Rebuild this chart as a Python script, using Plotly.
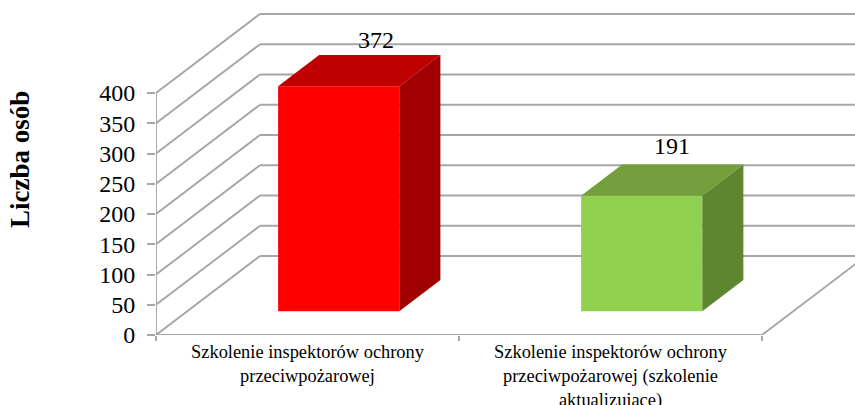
import plotly.graph_objects as go

categories = ["Szkolenie inspektorów ochrony<br>przeciwpożarowej",
              "Szkolenie inspektorów ochrony<br>przeciwpożarowej (szkolenie<br>aktualizujące)"]
values = [372, 191]
front_colors = ["#FF0000", "#92D050"]
top_colors = ["#C00000", "#739F3D"]
side_colors = ["#A00000", "#5E8630"]
y_ticks = [0, 50, 100, 150, 200, 250, 300, 350, 400]
y_title = "Liczba osób"

FONT = "Liberation Serif"
GRID = "#A6A6A6"
DX, DY = 104 / 303, 79 / 0.605      # full depth vector in axis units
BAR_W, D0, D1 = 0.4, 0.30, 0.695    # bar width and depth span


def proj(x, v, d):
    return x + d * DX, v + d * DY


fig = go.Figure()
shapes = []


def line(p, q):
    shapes.append(dict(type="line", xref="x", yref="y", layer="below",
                       x0=p[0], y0=p[1], x1=q[0], y1=q[1],
                       line=dict(color=GRID, width=1.9)))


n = len(categories)
for t in y_ticks:
    line(proj(0, t, 0), proj(0, t, 1))
    line(proj(0, t, 1), proj(n, t, 1))
line(proj(n, 0, 0), proj(n, 0, 1))
line((0, 0), (0, max(y_ticks)))
line((0, 0), (n, 0))

xc = [i + 0.5 + D0 * DX for i in range(n)]
fig.add_trace(go.Bar(x=xc, y=values, base=[D0 * DY] * n, width=BAR_W,
                     marker=dict(color=front_colors, line=dict(width=0)),
                     hoverinfo="skip", showlegend=False))

for i, v in enumerate(values):
    x0, x1 = i + 0.5 - BAR_W / 2, i + 0.5 + BAR_W / 2
    top = [proj(x0, v, D0), proj(x1, v, D0), proj(x1, v, D1), proj(x0, v, D1)]
    side = [proj(x1, 0, D0), proj(x1, 0, D1), proj(x1, v, D1), proj(x1, v, D0)]
    for pts, col in ((top, top_colors[i]), (side, side_colors[i])):
        fig.add_trace(go.Scatter(x=[p[0] for p in pts] + [pts[0][0]],
                                 y=[p[1] for p in pts] + [pts[0][1]],
                                 mode="lines", fill="toself", fillcolor=col,
                                 line=dict(width=0), hoverinfo="skip", showlegend=False))

xshifts = [37, 30]
yshifts = [46, 50]
annotations = [dict(x=xc[i], y=values[i] + D0 * DY, xref="x", yref="y", text=str(values[i]),
                    showarrow=False, xshift=xshifts[i], yshift=yshifts[i], yanchor="middle",
                    font=dict(family=FONT, size=24, color="#000000")) for i in range(n)]
annotations.append(dict(xref="x domain", yref="y domain",
                        x=(20 - 156) / 699, y=(335 - 160) / 335,
                        xanchor="center", yanchor="middle",
                        text=f"<b>{y_title}</b>", textangle=-90, showarrow=False,
                        font=dict(family=FONT, size=27, color="#000000")))

fig.update_layout(
    width=855, height=405, margin=dict(l=156, r=0, t=0, b=70, autoexpand=False),
    paper_bgcolor="white", plot_bgcolor="white", showlegend=False,
    shapes=shapes, annotations=annotations, hovermode=False,
    xaxis=dict(range=[0, 699 / 303], showgrid=False, zeroline=False, showline=False,
               automargin=False, ticklabelstandoff=4,
               tickvals=[i + 0.5 for i in range(n)], ticktext=categories, ticks="",
               tickfont=dict(family=FONT, size=18.4, color="#000000"), tickangle=0,
               minor=dict(tickvals=list(range(n + 1)), ticks="outside", ticklen=5,
                          tickcolor=GRID, tickwidth=1.9, showgrid=False)),
    yaxis=dict(range=[0, 335 / 0.605], showgrid=False, zeroline=False, showline=False,
               automargin=False, ticklabelstandoff=7,
               tickvals=y_ticks, ticks="outside", ticklen=8, tickcolor=GRID, tickwidth=1.9,
               tickfont=dict(family=FONT, size=24, color="#000000")),
)
fig.write_html("out.html", config=dict(displayModeBar=False),
               post_script="document.body.style.margin='0';document.documentElement.style.overflow='hidden';")
